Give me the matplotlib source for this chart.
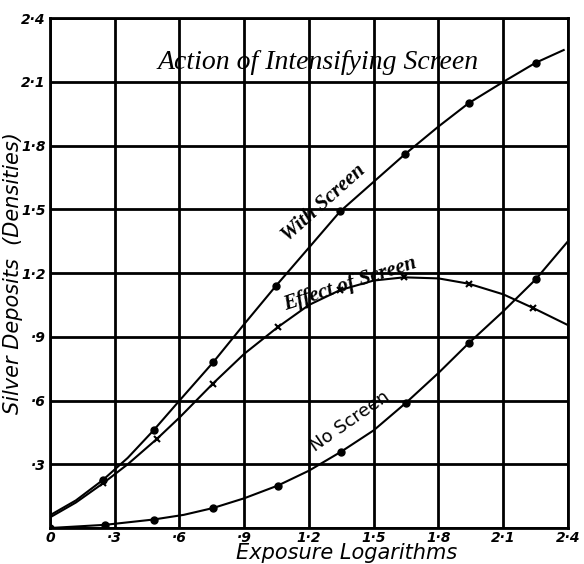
import matplotlib.pyplot as plt

# Logaritmos de exposición (eje x) y densidades
x_con = [0.245, 0.48, 0.756, 1.047, 1.344, 1.645, 1.94, 2.25]
y_con = [0.226, 0.46, 0.78, 1.14, 1.49, 1.76, 2.0, 2.19]
# trazo de la curva (incluye extremos sin marcador)
xc_con = [0.0, 0.12, 0.245, 0.36, 0.48, 0.6, 0.756, 0.9, 1.047, 1.2, 1.344, 1.5, 1.645, 1.8, 1.94, 2.1, 2.25, 2.38]
yc_con = [0.06, 0.13, 0.226, 0.33, 0.46, 0.6, 0.78, 0.96, 1.14, 1.32, 1.49, 1.63, 1.76, 1.89, 2.0, 2.1, 2.19, 2.25]

x_efecto = [0.245, 0.496, 0.755, 1.056, 1.344, 1.64, 1.94, 2.24]
y_efecto = [0.21, 0.42, 0.68, 0.946, 1.12, 1.18, 1.15, 1.035]
xc_efecto = [0.0, 0.12, 0.245, 0.36, 0.496, 0.6, 0.755, 0.9, 1.056, 1.2, 1.344, 1.5, 1.64, 1.8, 1.94, 2.1, 2.24, 2.4]
yc_efecto = [0.05, 0.12, 0.21, 0.3, 0.42, 0.52, 0.68, 0.82, 0.946, 1.05, 1.12, 1.165, 1.18, 1.175, 1.15, 1.1, 1.035, 0.955]

x_sin = [0.0, 0.255, 0.48, 0.755, 1.056, 1.35, 1.65, 1.94, 2.25]
y_sin = [0.0, 0.015, 0.04, 0.094, 0.2, 0.36, 0.59, 0.87, 1.17]
xc_sin = [0.0, 0.255, 0.48, 0.62, 0.755, 0.9, 1.056, 1.2, 1.35, 1.5, 1.65, 1.8, 1.94, 2.1, 2.25, 2.4]
yc_sin = [0.0, 0.015, 0.04, 0.062, 0.094, 0.14, 0.2, 0.27, 0.36, 0.46, 0.59, 0.73, 0.87, 1.02, 1.17, 1.35]

ticks = [0, 0.3, 0.6, 0.9, 1.2, 1.5, 1.8, 2.1, 2.4]
etiquetas_x = ['0', '·3', '·6', '·9', '1·2', '1·5', '1·8', '2·1', '2·4']
etiquetas_y = ['', '·3', '·6', '·9', '1·2', '1·5', '1·8', '2·1', '2·4']

fig = plt.figure(figsize=(5.84, 5.64), dpi=100)
ax = fig.add_axes([0.0856, 0.0638, 0.887, 0.904])

# curvas
ax.plot(xc_con, yc_con, color='black', lw=1.5)
ax.plot(x_con, y_con, 'o', color='black', ms=5, mfc='black')
ax.plot(xc_efecto, yc_efecto, color='black', lw=1.5)
ax.plot(x_efecto, y_efecto, 'x', color='black', ms=5, mew=1.5)
ax.plot(xc_sin, yc_sin, color='black', lw=1.5)
ax.plot(x_sin, y_sin, 'o', color='black', ms=5, mfc='black')

ax.set_xlim(0, 2.4)
ax.set_ylim(0, 2.4)
ax.set_xticks(ticks)
ax.set_yticks(ticks)
ax.set_xticklabels(etiquetas_x, fontsize=10, fontstyle='italic', fontweight='bold')
ax.set_yticklabels(etiquetas_y, fontsize=10, fontstyle='italic', fontweight='bold')
ax.tick_params(axis='x', length=0, pad=2)
ax.tick_params(axis='y', length=0, pad=3)
ax.grid(True, color='black', lw=2)
for s in ax.spines.values():
    s.set_linewidth(2)

# textos
ax.text(1.24, 2.19, 'Action of Intensifying Screen', fontsize=20, fontstyle='italic',
        family='Liberation Serif', ha='center', va='center')
ax.text(1.27, 1.53, 'With Screen', rotation=42, fontsize=15, fontstyle='italic',
        family='Liberation Serif', fontweight='bold', ha='center', va='center',
        rotation_mode='anchor')
ax.text(1.39, 1.15, 'Effect of Screen', rotation=18, fontsize=15, fontstyle='italic',
        family='Liberation Serif', fontweight='bold', ha='center', va='center',
        rotation_mode='anchor')
ax.text(1.39, 0.50, 'No Screen', rotation=35, fontsize=13,
        ha='center', va='center', rotation_mode='anchor')

fig.text(0.594, 0.001, 'Exposure Logarithms', fontsize=15,
         fontstyle='italic', ha='center', va='bottom')
fig.text(0.022, 0.515, 'Silver Deposits  (Densities)', fontsize=15, fontstyle='italic',
         rotation=90, ha='center', va='center')

fig.savefig('out.png', dpi=100)
